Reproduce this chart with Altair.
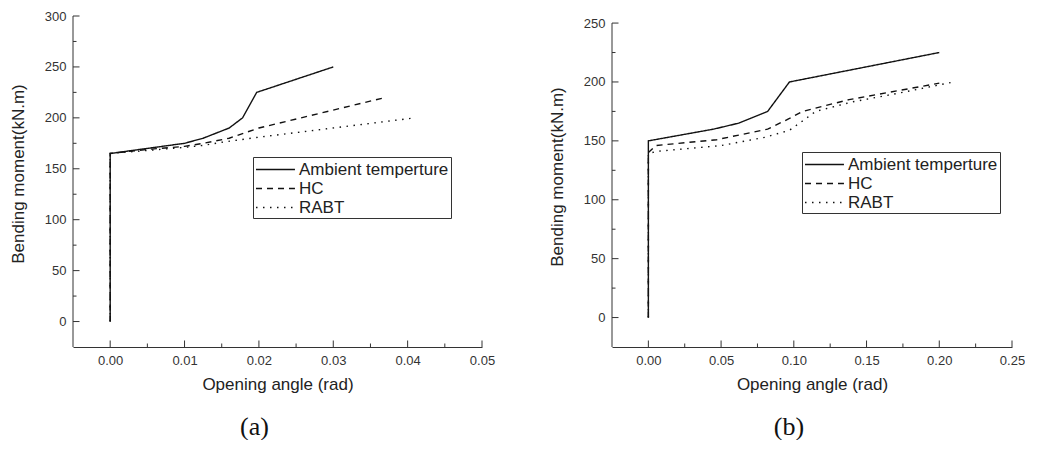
import altair as alt
import pandas as pd

SERIES = ["Ambient temperture", "HC", "RABT"]

# ---------------- Panel (a) ----------------
a_amb_x = [0.0, 0.0, 0.0100, 0.0125, 0.0160, 0.0178, 0.0197, 0.0300]
a_amb_y = [0, 165, 175, 180, 190, 200, 225, 250]
a_hc_x = [0.0, 0.0, 0.0050, 0.0100, 0.0125, 0.0160, 0.0200, 0.0370]
a_hc_y = [0, 165, 169, 172, 175, 180, 190, 220]
a_rabt_x = [0.0, 0.0, 0.0050, 0.0100, 0.0125, 0.0150, 0.0200, 0.0410]
a_rabt_y = [0, 165, 168, 171, 173, 176, 181, 200]

a_x_major = [0.00, 0.01, 0.02, 0.03, 0.04, 0.05]
a_x_minor = [0.005, 0.015, 0.025, 0.035, 0.045]
a_y_major = [0, 50, 100, 150, 200, 250, 300]
a_y_minor = [25, 75, 125, 175, 225, 275]

# ---------------- Panel (b) ----------------
b_amb_x = [0.0, 0.0, 0.045, 0.062, 0.074, 0.082, 0.097, 0.200]
b_amb_y = [0, 150, 160, 165, 171, 175, 200, 225]
b_hc_x = [0.0, 0.0, 0.005, 0.047, 0.082, 0.097, 0.106, 0.138, 0.200]
b_hc_y = [0, 140, 146, 151, 160, 169, 175, 185, 199]
b_rabt_x = [0.0, 0.0, 0.005, 0.050, 0.080, 0.097, 0.105, 0.115, 0.140, 0.170, 0.210]
b_rabt_y = [0, 139, 141, 146, 153, 159, 166, 175, 183, 190, 200]

b_x_major = [0.00, 0.05, 0.10, 0.15, 0.20, 0.25]
b_x_minor = [0.025, 0.075, 0.125, 0.175, 0.225]
b_y_major = [0, 50, 100, 150, 200, 250]
b_y_minor = [25, 75, 125, 175, 225]

AX = "#333333"
DASHES = [[1, 0], [6, 5], [1.5, 5.5]]


def series_df(xs_list, ys_list):
    rows = []
    for name, xs, ys in zip(SERIES, xs_list, ys_list):
        for i, (x, y) in enumerate(zip(xs, ys)):
            rows.append({"series": name, "x": x, "y": y, "order": i})
    return pd.DataFrame(rows)


def panel(df, xdom, ydom, yaxis_top, xmaj, xmin, ymaj, ymin, w, h, lx, ly, ytitle_y, caption):
    xs = alt.Scale(domain=xdom, nice=False, zero=False)
    ys = alt.Scale(domain=ydom, nice=False, zero=False)

    lines = alt.Chart(df).mark_line(color="#111111", strokeWidth=1.4).encode(
        x=alt.X("x:Q", scale=xs,
                axis=alt.Axis(values=xmaj, format=".2f", title="Opening angle (rad)",
                              labelPadding=7, titlePadding=9, labelFlush=False)),
        y=alt.Y("y:Q", scale=ys,
                axis=alt.Axis(values=ymaj, format="d", title="Bending moment(kN.m)",
                              labelPadding=7, titlePadding=17, labelFlush=False,
                              domain=False, titleY=ytitle_y)),
        strokeDash=alt.StrokeDash(
            "series:N",
            scale=alt.Scale(domain=SERIES, range=DASHES),
            sort=SERIES,
            legend=alt.Legend(
                title=None, orient="none", legendX=lx, legendY=ly,
                strokeColor=AX, padding=2, rowPadding=0,
                symbolType="M-1,0H3.1", symbolSize=361, symbolStrokeWidth=1.4,
                symbolStrokeColor="#111111", labelOffset=23,
                labelFontSize=17, labelFont="Liberation Sans", labelColor="#222222",
                labelLimit=400,
            ),
        ),
        order="order:Q",
    )

    # left axis line, from the bottom of the domain up to the last labelled value
    yline = alt.Chart(pd.DataFrame({"d": [0]})).mark_rule(color=AX, strokeWidth=1).encode(
        x=alt.value(0),
        y=alt.YDatum(ydom[0], type="quantitative"),
        y2=alt.Y2Datum(yaxis_top),
    )

    def xt(vals, ln):
        return alt.Chart(pd.DataFrame({"x": vals})).mark_rule(color=AX, strokeWidth=1).encode(
            x=alt.X("x:Q", scale=xs), y=alt.value(h), y2=alt.value(h - ln))

    def yt(vals, ln):
        return alt.Chart(pd.DataFrame({"y": vals})).mark_rule(color=AX, strokeWidth=1).encode(
            y=alt.Y("y:Q", scale=ys), x=alt.value(0), x2=alt.value(ln))

    layers = [lines, yline, xt(xmaj, 6.5), xt(xmin, 3.5), yt(ymaj, 6.5), yt(ymin, 3.5)]
    return alt.layer(*layers).properties(
        width=w, height=h,
        title=alt.TitleParams(text=caption, orient="bottom", anchor="middle",
                              font="Liberation Serif", fontSize=26, fontWeight="normal",
                              color="#111111", offset=22, dx=-23),
    )


left = panel(series_df([a_amb_x, a_hc_x, a_rabt_x], [a_amb_y, a_hc_y, a_rabt_y]),
             [-0.005, 0.05], [-25, 300], 300, a_x_major, a_x_minor, a_y_major, a_y_minor,
             409, 331, 180, 141, 157.5, "(a)")

right = panel(series_df([b_amb_x, b_hc_x, b_rabt_x], [b_amb_y, b_hc_y, b_rabt_y]),
              [-0.025, 0.25], [-25, 256], 250, b_x_major, b_x_minor, b_y_major, b_y_minor,
              400, 331, 190, 136, 160.5, "(b)")

chart = alt.hconcat(left, right, spacing=53).resolve_scale(
    strokeDash="independent"
).resolve_legend(strokeDash="independent").properties(
    padding={"left": 1, "top": 2, "right": 0, "bottom": 0}
).configure_axis(
    labelFont="Liberation Sans", labelFontSize=13, labelColor="#333333",
    titleFont="Liberation Sans", titleFontSize=17, titleFontWeight="normal", titleColor="#222222",
    domainColor=AX, domainWidth=1, grid=False, ticks=False, tickSize=0,
).configure_view(strokeWidth=0)

chart.save("out.html", embed_options={"renderer": "svg", "actions": False})
